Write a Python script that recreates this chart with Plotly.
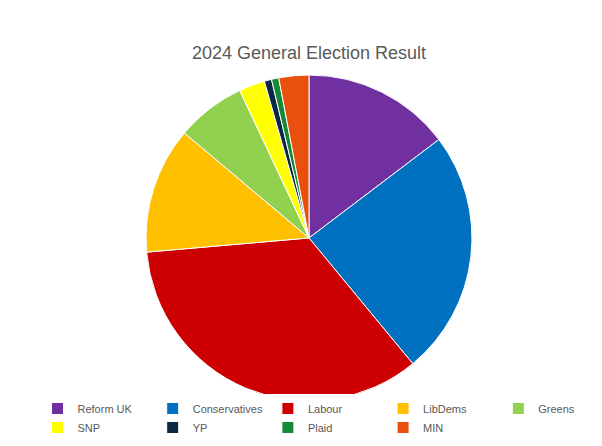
import plotly.graph_objects as go

parties = ["Reform UK", "Conservatives", "Labour", "LibDems", "Greens", "SNP", "YP", "Plaid", "MIN"]
vote_share = [14.3, 23.7, 33.7, 12.2, 6.7, 2.5, 0.7, 0.7, 2.9]
colors = ["#7030A0", "#0070C0", "#CC0000", "#FFC000", "#92D050", "#FFFF00", "#0B2742", "#138A36", "#E8500E"]

fig = go.Figure(go.Pie(
    labels=parties, values=vote_share, marker=dict(colors=colors, line=dict(color="white", width=1)),
    sort=False, direction="clockwise", rotation=0, textinfo="none",
    domain=dict(x=[0, 1], y=[0.14, 1]),
))

fig.update_layout(
    width=602, height=446,
    margin=dict(l=0, r=0, t=67, b=0),
    paper_bgcolor="white",
    title=dict(text="2024 General Election Result", x=0.5, y=0.9, xanchor="center", yanchor="middle",
               font=dict(family="Liberation Sans, Arial", size=18, color="#595959")),
    legend=dict(orientation="h", x=0.5, xanchor="center", y=0.095, yanchor="middle",
                font=dict(family="Liberation Sans, Arial", size=11, color="#595959"),
                itemwidth=30, tracegroupgap=0, traceorder="normal"),
)

fig.write_html("out.html")
